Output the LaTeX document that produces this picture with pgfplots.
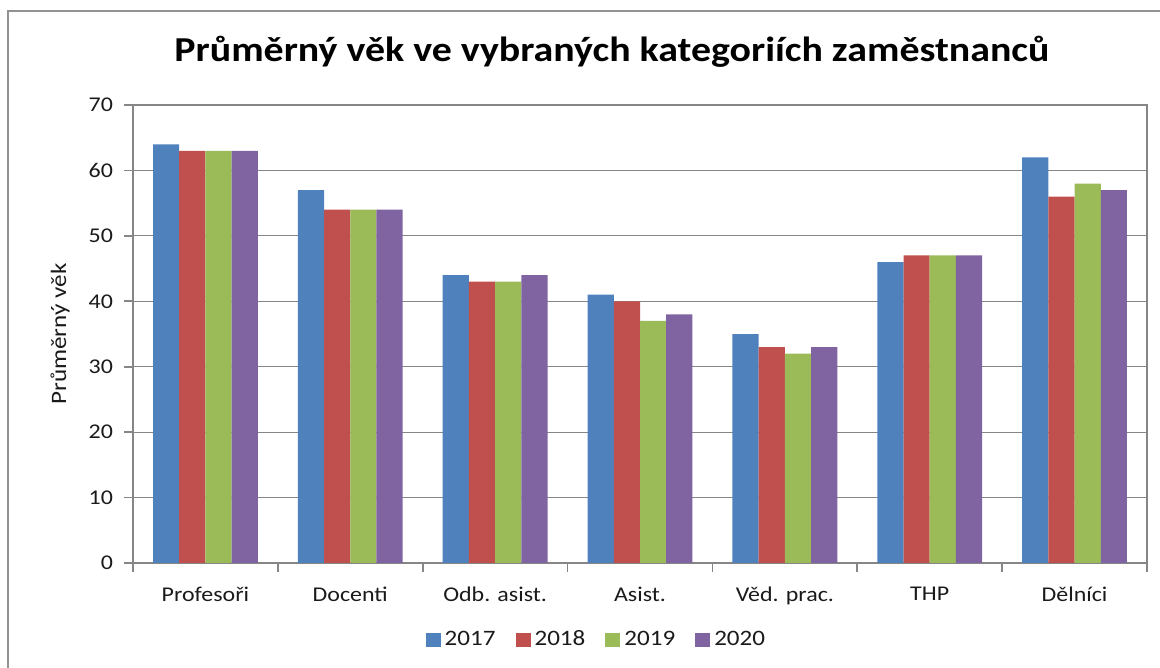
\documentclass[border=0pt]{standalone}
\usepackage{pgfplots}
\pgfplotsset{compat=1.18}
\usepackage{fontspec}
\setmainfont{Carlito}[FakeStretch=1.14]
\definecolor{s17}{HTML}{4F81BD}
\definecolor{s18}{HTML}{C0504D}
\definecolor{s19}{HTML}{9BBB59}
\definecolor{s20}{HTML}{8064A2}
\definecolor{axgray}{HTML}{868686}
\definecolor{txt}{HTML}{1A1A1A}
\begin{document}
\begin{tikzpicture}
  \useasboundingbox (0,0) rectangle (580pt,334pt);
  % chart frame (cropped at right and bottom)
  \draw[axgray!90, line width=1pt] (4pt,0) -- (4pt,328.5pt) -- (580pt,328.5pt);
  \node[font=\bfseries\fontsize{17.5}{20}\selectfont, text=black] at (306pt,308pt)
    {Průměrný věk ve vybraných kategoriích zaměstnanců};
  \begin{axis}[
    at={(66.5pt,52.5pt)}, anchor=south west,
    scale only axis, width=507pt, height=229pt,
    ybar=0pt, bar width=13.1pt,
    xmin=-0.5, xmax=6.5, ymin=0, ymax=70,
    xtick={-0.5,0.5,...,6.5},
    xticklabels={Profesoři, Docenti, Odb. asist., Asist., Věd. prac., THP, Dělníci},
    x tick label as interval,
    ytick={0,10,...,70},
    ymajorgrids, grid style={axgray, line width=0.6pt},
    axis line style={axgray, line width=0.8pt},
    tick style={axgray, line width=0.8pt},
    tick align=outside, tick pos=left, major tick length=4.5pt,
    /pgf/number format/assume math mode=true,
    ticklabel style={font=\fontsize{10.5}{12}\selectfont, text=txt},
    y tick label style={xshift=-2pt},
    x tick label style={yshift=-4pt},
    ylabel={Průměrný věk},
    ylabel style={at={(axis description cs:-0.072,0.5)}, anchor=center,
      font=\fontsize{11}{13}\selectfont, text=txt},
    legend columns=4,
    legend style={at={(axis description cs:0.458,-0.168)}, anchor=center,
      draw=none, fill=none, font=\fontsize{11}{13}\selectfont, text=txt,
      /tikz/every even column/.append style={column sep=8pt}},
    legend image code/.code={\fill[#1] (0pt,-3.7pt) rectangle (7.5pt,3.7pt);},
  ]
    \addplot[fill=s17, draw=none] coordinates {(0,64) (1,57) (2,44) (3,41) (4,35) (5,46) (6,62)};
    \addplot[fill=s18, draw=none] coordinates {(0,63) (1,54) (2,43) (3,40) (4,33) (5,47) (6,56)};
    \addplot[fill=s19, draw=none] coordinates {(0,63) (1,54) (2,43) (3,37) (4,32) (5,47) (6,58)};
    \addplot[fill=s20, draw=none] coordinates {(0,63) (1,54) (2,44) (3,38) (4,33) (5,47) (6,57)};
    \legend{2017, 2018, 2019, 2020}
  \end{axis}
\end{tikzpicture}
\end{document}
